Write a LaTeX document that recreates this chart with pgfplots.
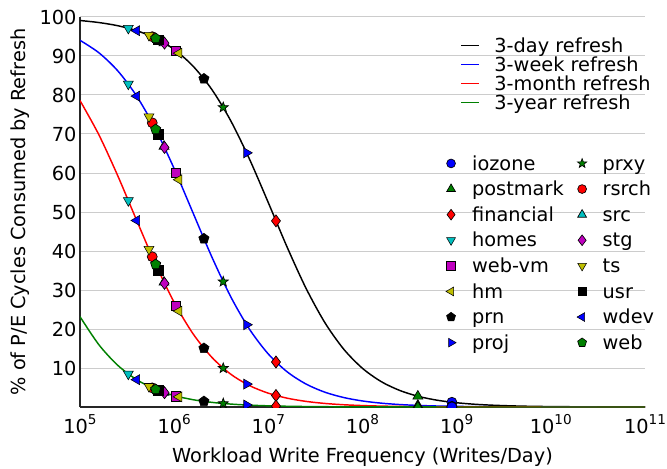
\documentclass[border=0pt]{standalone}
\usepackage{pgfplots}
\pgfplotsset{compat=1.18}
\usepackage{fontspec}
\setmainfont{DejaVu Sans}
\usetikzlibrary{plotmarks}
\definecolor{mblue}{rgb}{0,0,1}
\definecolor{mgreen}{rgb}{0,0.5,0}
\definecolor{mred}{rgb}{1,0,0}
\definecolor{mcyan}{rgb}{0,0.75,0.75}
\definecolor{mmag}{rgb}{0.75,0,0.75}
\definecolor{myel}{rgb}{0.75,0.75,0}
\newcommand{\fs}{\fontsize{14.5}{17}\selectfont}
\newcommand{\tl}[1]{10\raisebox{6.75pt}{\fontsize{10.2}{12}\selectfont #1}}
\pgfdeclareplotmark{fstar}{%
  \pgfpathmoveto{\pgfqpointpolar{90}{\pgfplotmarksize}}%
  \pgfpathlineto{\pgfqpointpolar{126}{0.42\pgfplotmarksize}}%
  \pgfpathlineto{\pgfqpointpolar{162}{\pgfplotmarksize}}%
  \pgfpathlineto{\pgfqpointpolar{198}{0.42\pgfplotmarksize}}%
  \pgfpathlineto{\pgfqpointpolar{234}{\pgfplotmarksize}}%
  \pgfpathlineto{\pgfqpointpolar{270}{0.42\pgfplotmarksize}}%
  \pgfpathlineto{\pgfqpointpolar{306}{\pgfplotmarksize}}%
  \pgfpathlineto{\pgfqpointpolar{342}{0.42\pgfplotmarksize}}%
  \pgfpathlineto{\pgfqpointpolar{18}{\pgfplotmarksize}}%
  \pgfpathlineto{\pgfqpointpolar{54}{0.42\pgfplotmarksize}}%
  \pgfpathclose
  \pgfusepathqfillstroke}
\pgfplotsset{
  mk/.style={only marks, mark options={draw=black, line width=0.5pt}},
}
\begin{document}
\begin{tikzpicture}
\path[use as bounding box] (-60pt,-45.75pt) rectangle (440.25pt,305.25pt);
\begin{axis}[scale only axis, width=423.75pt, height=292.5pt,
  xmode=log, xmin=1e5, xmax=1e11, ymin=0, ymax=100,
  axis x line*=bottom, axis y line*=left,
  axis line style={line width=1.5pt, black!85},
  major tick length=0pt, xminorticks=false, yminorticks=false,
  xtick={1e5,1e6,1e7,1e8,1e9,1e10,1e11},
  xticklabels={\tl{5},\tl{6},\tl{7},\tl{8},\tl{9},\tl{10},\tl{11}},
  ytick={10,20,30,40,50,60,70,80,90,100},
  /pgf/number format/assume math mode=true,
  tick label style={font=\fs},
  yticklabel style={inner xsep=2.5pt},
  xticklabel style={anchor=north, inner sep=0pt, yshift=-5.5pt},
  ymajorgrids=true,
  major grid style={black!20, line width=0.75pt},
  xlabel={Workload Write Frequency (Writes/Day)},
  ylabel={\% of P/E Cycles Consumed by Refresh},
  label style={font=\fs},
  xlabel style={at={(axis description cs:0.5,0)}, anchor=north, yshift=-30.7pt, inner sep=0pt},
  ylabel style={at={(axis description cs:-0.123,0.5)}, anchor=north, inner sep=0pt},
  legend cell align=left,
  legend image code/.code={\draw[#1] (0pt,0pt) -- (13.5pt,0pt);},
  legend style={at={(axis description cs:0.6726,0.9515)}, anchor=north west,
    draw=none, fill=none, inner sep=0pt, row sep=0pt, column sep=11pt,
    font=\fs, nodes={inner sep=0pt, text height=12.1pt, text depth=2.15pt}},
]
\addplot[black, line width=1.1pt, smooth] coordinates {
(1e5,99.10) (1.585e5,98.58) (2.512e5,97.77) (3.981e5,96.51) (6.310e5,94.57)
(1e6,91.67) (1.585e6,87.41) (2.512e6,81.41) (3.981e6,73.43) (6.310e6,63.55)
(1e7,52.38) (1.585e7,40.97) (2.512e7,30.45) (3.981e7,21.65) (6.310e7,14.84)
(1e8,9.91) (1.585e8,6.49) (2.512e8,4.20) (3.981e8,2.69) (6.310e8,1.71)
(1e9,1.09) (1.585e9,0.69) (2.512e9,0.44) (3.981e9,0.28) (6.310e9,0.17)
(1e10,0.11) (1.585e10,0.069) (2.512e10,0.044) (3.981e10,0.028) (6.310e10,0.017) (1e11,0.011)};
\addlegendentry{3-day refresh}
\addplot[mblue, line width=1.1pt, smooth] coordinates {
(1e5,94.02) (1.585e5,90.84) (2.512e5,86.22) (3.981e5,79.79) (6.310e5,71.35)
(1e6,61.11) (1.585e6,49.79) (2.512e6,38.48) (3.981e6,28.30) (6.310e6,19.94)
(1e7,13.58) (1.585e7,9.02) (2.512e7,5.89) (3.981e7,3.80) (6.310e7,2.43)
(1e8,1.547) (1.585e8,0.982) (2.512e8,0.622) (3.981e8,0.393) (6.310e8,0.248)
(1e9,0.157) (1.585e9,0.099) (2.512e9,0.063) (3.981e9,0.039) (6.310e9,0.025)
(1e10,0.016) (1.585e10,0.010) (2.512e10,0.006) (3.981e10,0.004) (6.310e10,0.0025) (1e11,0.0016)};
\addlegendentry{3-week refresh}
\addplot[mred, line width=1.1pt, smooth] coordinates {
(1e5,78.57) (1.585e5,69.82) (2.512e5,59.34) (3.981e5,47.95) (6.310e5,36.75)
(1e6,26.83) (1.585e6,18.79) (2.512e6,12.74) (3.981e6,8.43) (6.310e6,5.49)
(1e7,3.54) (1.585e7,2.26) (2.512e7,1.44) (3.981e7,0.913) (6.310e7,0.578)
(1e8,0.366) (1.585e8,0.231) (2.512e8,0.146) (3.981e8,0.092) (6.310e8,0.058)
(1e9,0.037) (1.585e9,0.023) (2.512e9,0.015) (3.981e9,0.009) (6.310e9,0.006)
(1e10,0.004) (1.585e10,0.0023) (2.512e10,0.0015) (3.981e10,0.0009) (6.310e10,0.0006) (1e11,0.0004)};
\addlegendentry{3-month refresh}
\addplot[mgreen, line width=1.1pt, smooth] coordinates {
(1e5,23.16) (1.585e5,15.98) (2.512e5,10.71) (3.981e5,7.04) (6.310e5,4.56)
(1e6,2.93) (1.585e6,1.87) (2.512e6,1.19) (3.981e6,0.751) (6.310e6,0.476)
(1e7,0.300) (1.585e7,0.190) (2.512e7,0.120) (3.981e7,0.0756) (6.310e7,0.0477)
(1e8,0.0301) (1.585e8,0.019) (2.512e8,0.012) (3.981e8,0.0076) (6.310e8,0.0048)
(1e9,0.003) (1.585e9,0.0019) (2.512e9,0.0012) (3.981e9,0.0008) (6.310e9,0.0005)
(1e10,0.0003) (1.585e10,0.0002) (2.512e10,0.0001) (3.981e10,0.0001) (6.310e10,0.00005) (1e11,0.00003)};
\addlegendentry{3-year refresh}
\end{axis}
\begin{axis}[scale only axis, width=423.75pt, height=292.5pt,
  xmode=log, xmin=1e5, xmax=1e11, ymin=0, ymax=100, clip marker paths=true,
  hide axis,
  legend cell align=left,
  legend columns=2,
  legend style={at={(axis description cs:0.6473,0.658)}, anchor=north west,
    draw=none, fill=none, inner sep=0pt, row sep=0pt, column sep=12pt,
    /tikz/every even column/.append style={column sep=10pt},
    font=\fs, nodes={inner sep=0pt, text height=14.6pt, text depth=4.6pt}},
]
% iozone
\addplot[mk, forget plot, mark=*, mark size=3.75pt, fill=mblue] coordinates {(8.9e8,1.22) (8.9e8,0.176) (8.9e8,0.041) (8.9e8,0.0034)};
% postmark
\addplot[mk, forget plot, mark=triangle*, mark size=4.3pt, fill=mgreen] coordinates {(3.87e8,2.76) (3.87e8,0.404) (3.87e8,0.0947) (3.87e8,0.0078)};
% financial
\addplot[mk, forget plot, mark=diamond*, mark size=4.5pt, fill=mred] coordinates {(1.205e7,47.72) (1.205e7,11.54) (1.205e7,2.95) (1.205e7,0.249)};
% homes
\addplot[mk, forget plot, mark=triangle*, mark size=4.3pt, fill=mcyan, mark options={rotate=180}] coordinates {(3.26e5,97.12) (3.26e5,82.82) (3.26e5,52.94) (3.26e5,8.46)};
% web-vm
\addplot[mk, forget plot, mark=square*, mark size=3.6pt, fill=mmag] coordinates {(1.045e6,91.32) (1.045e6,60.06) (1.045e6,25.97) (1.045e6,2.80)};
% hm
\addplot[mk, forget plot, mark=triangle*, mark size=4.3pt, fill=myel, mark options={rotate=90}] coordinates {(1.125e6,90.72) (1.125e6,58.28) (1.125e6,24.58) (1.125e6,2.61)};
% prn
\addplot[mk, forget plot, mark=pentagon*, mark size=4pt, fill=black] coordinates {(2.07e6,84.16) (2.07e6,43.15) (2.07e6,15.05) (2.07e6,1.435)};
% proj
\addplot[mk, forget plot, mark=triangle*, mark size=4.3pt, fill=mblue, mark options={rotate=-90}] coordinates {(5.88e6,65.17) (5.88e6,21.09) (5.88e6,5.87) (5.88e6,0.510)};
% prxy
\addplot[mk, forget plot, mark=fstar, mark size=4pt, fill=mgreen] coordinates {(3.32e6,76.82) (3.32e6,32.13) (3.32e6,9.95) (3.32e6,0.900)};
% rsrch
\addplot[mk, forget plot, mark=*, mark size=3.75pt, fill=mred] coordinates {(5.85e5,94.95) (5.85e5,72.87) (5.85e5,38.53) (5.85e5,4.90)};
% src
\addplot[mk, forget plot, mark=triangle*, mark size=4.3pt, fill=mcyan] coordinates {(7.8e5,93.38) (7.8e5,66.83) (7.8e5,31.98) (7.8e5,3.72)};
% stg
\addplot[mk, forget plot, mark=diamond*, mark size=4.5pt, fill=mmag] coordinates {(7.9e5,93.30) (7.9e5,66.55) (7.9e5,31.70) (7.9e5,3.67)};
% ts
\addplot[mk, forget plot, mark=triangle*, mark size=4.3pt, fill=myel, mark options={rotate=180}] coordinates {(5.4e5,95.32) (5.4e5,74.42) (5.4e5,40.44) (5.4e5,5.29)};
% usr
\addplot[mk, forget plot, mark=square*, mark size=3.6pt, fill=black] coordinates {(6.78e5,94.19) (6.78e5,69.86) (6.78e5,35.10) (6.78e5,4.26)};
% wdev
\addplot[mk, forget plot, mark=triangle*, mark size=4.3pt, fill=mblue, mark options={rotate=90}] coordinates {(4.0e5,96.49) (4.0e5,79.71) (4.0e5,47.83) (4.0e5,7.01)};
% web
\addplot[mk, forget plot, mark=pentagon*, mark size=4pt, fill=mgreen] coordinates {(6.36e5,94.53) (6.36e5,71.19) (6.36e5,36.57) (6.36e5,4.52)};
% legend (row-wise: col1, col2)
\addlegendimage{mk, mark=*, mark size=3.3pt, fill=mblue}\addlegendentry{iozone}
\addlegendimage{mk, mark=fstar, mark size=3.6pt, fill=mgreen}\addlegendentry{prxy}
\addlegendimage{mk, mark=triangle*, mark size=3.8pt, fill=mgreen}\addlegendentry{postmark}
\addlegendimage{mk, mark=*, mark size=3.3pt, fill=mred}\addlegendentry{rsrch}
\addlegendimage{mk, mark=diamond*, mark size=4pt, fill=mred}\addlegendentry{financial}
\addlegendimage{mk, mark=triangle*, mark size=3.8pt, fill=mcyan}\addlegendentry{src}
\addlegendimage{mk, mark=triangle*, mark size=3.8pt, fill=mcyan, mark options={rotate=180}}\addlegendentry{homes}
\addlegendimage{mk, mark=diamond*, mark size=4pt, fill=mmag}\addlegendentry{stg}
\addlegendimage{mk, mark=square*, mark size=3.2pt, fill=mmag}\addlegendentry{web-vm}
\addlegendimage{mk, mark=triangle*, mark size=3.8pt, fill=myel, mark options={rotate=180}}\addlegendentry{ts}
\addlegendimage{mk, mark=triangle*, mark size=3.8pt, fill=myel, mark options={rotate=90}}\addlegendentry{hm}
\addlegendimage{mk, mark=square*, mark size=3.2pt, fill=black}\addlegendentry{usr}
\addlegendimage{mk, mark=pentagon*, mark size=3.5pt, fill=black}\addlegendentry{prn}
\addlegendimage{mk, mark=triangle*, mark size=3.8pt, fill=mblue, mark options={rotate=90}}\addlegendentry{wdev}
\addlegendimage{mk, mark=triangle*, mark size=3.8pt, fill=mblue, mark options={rotate=-90}}\addlegendentry{proj}
\addlegendimage{mk, mark=pentagon*, mark size=3.5pt, fill=mgreen}\addlegendentry{web}
\end{axis}
\end{tikzpicture}
\end{document}
